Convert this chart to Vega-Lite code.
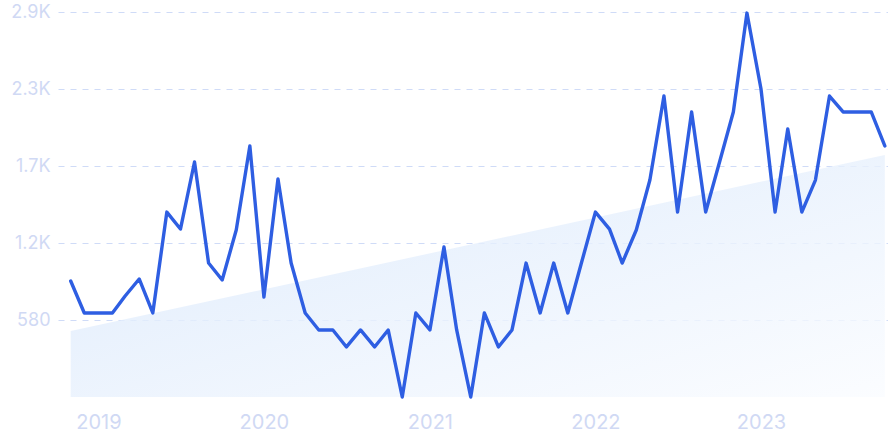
{
  "$schema": "https://vega.github.io/schema/vega-lite/v6.json",
  "width": 830,
  "height": 385,
  "autosize": "none",
  "padding": {"left": 58, "top": 12, "right": 0, "bottom": 46},
  "background": "white",
  "config": {
    "view": {"stroke": null},
    "axis": {"labelFont": "Inter", "labelFontSize": 18, "labelColor": "#d0d9f4", "domain": false, "ticks": false, "title": null}
  },
  "layer": [
    {
      "data": {"values": [{"date": "2018-11-01", "value": 497}, {"date": "2023-10-01", "value": 1823}]},
      "mark": {"type": "area", "opacity": 0.8, "color": {"gradient": "linear", "x1": 0, "y1": 0, "x2": 1, "y2": 1, "stops": [{"offset": 0, "color": "#d6e6fb"}, {"offset": 1, "color": "#fafcff"}]}},
      "encoding": {
        "x": {"field": "date", "type": "temporal",
          "scale": {"type": "utc", "domain": [{"year": 2018, "month": "oct", "date": 4, "utc": true}, {"year": 2023, "month": "oct", "date": 8, "utc": true}]},
          "axis": {"grid": false, "format": "%Y", "formatType": "utc", "tickCount": "year", "labelPadding": 15, "labelFontSize": 20}},
        "y": {"field": "value", "type": "quantitative",
          "scale": {"domain": [0, 2900], "nice": false},
          "axis": {"values": [580, 1160, 1740, 2320, 2900], "labelPadding": 8, "grid": true, "gridColor": "#cfdbf7", "gridDash": [6, 6], "gridWidth": 1,
            "labelExpr": "datum.value >= 1000 ? format(datum.value / 1000, '.1f') + 'K' : datum.value"}}
      }
    },
    {
      "data": {"values": [
        {"date": "2018-11-01", "value": 874},
        {"date": "2018-12-01", "value": 633},
        {"date": "2019-01-01", "value": 633},
        {"date": "2019-02-01", "value": 633},
        {"date": "2019-03-01", "value": 761},
        {"date": "2019-04-01", "value": 889},
        {"date": "2019-05-01", "value": 633},
        {"date": "2019-06-01", "value": 1393},
        {"date": "2019-07-01", "value": 1265},
        {"date": "2019-08-01", "value": 1770},
        {"date": "2019-09-01", "value": 1009},
        {"date": "2019-10-01", "value": 881},
        {"date": "2019-11-01", "value": 1258},
        {"date": "2019-12-01", "value": 1891},
        {"date": "2020-01-01", "value": 753},
        {"date": "2020-02-01", "value": 1642},
        {"date": "2020-03-01", "value": 1009},
        {"date": "2020-04-01", "value": 633},
        {"date": "2020-05-01", "value": 505},
        {"date": "2020-06-01", "value": 505},
        {"date": "2020-07-01", "value": 377},
        {"date": "2020-08-01", "value": 505},
        {"date": "2020-09-01", "value": 377},
        {"date": "2020-10-01", "value": 505},
        {"date": "2020-11-01", "value": 0},
        {"date": "2020-12-01", "value": 633},
        {"date": "2021-01-01", "value": 505},
        {"date": "2021-02-01", "value": 1130},
        {"date": "2021-03-01", "value": 505},
        {"date": "2021-04-01", "value": 0},
        {"date": "2021-05-01", "value": 633},
        {"date": "2021-06-01", "value": 377},
        {"date": "2021-07-01", "value": 505},
        {"date": "2021-08-01", "value": 1009},
        {"date": "2021-09-01", "value": 633},
        {"date": "2021-10-01", "value": 1009},
        {"date": "2021-11-01", "value": 633},
        {"date": "2021-12-01", "value": 1009},
        {"date": "2022-01-01", "value": 1393},
        {"date": "2022-02-01", "value": 1265},
        {"date": "2022-03-01", "value": 1009},
        {"date": "2022-04-01", "value": 1258},
        {"date": "2022-05-01", "value": 1634},
        {"date": "2022-06-01", "value": 2267},
        {"date": "2022-07-01", "value": 1393},
        {"date": "2022-08-01", "value": 2147},
        {"date": "2022-09-01", "value": 1393},
        {"date": "2022-10-01", "value": 1762},
        {"date": "2022-11-01", "value": 2147},
        {"date": "2022-12-01", "value": 2892},
        {"date": "2023-01-01", "value": 2320},
        {"date": "2023-02-01", "value": 1393},
        {"date": "2023-03-01", "value": 2019},
        {"date": "2023-04-01", "value": 1393},
        {"date": "2023-05-01", "value": 1634},
        {"date": "2023-06-01", "value": 2267},
        {"date": "2023-07-01", "value": 2147},
        {"date": "2023-08-01", "value": 2147},
        {"date": "2023-09-01", "value": 2147},
        {"date": "2023-10-01", "value": 1891}
      ]},
      "mark": {"type": "line", "color": "#2e5ee2", "strokeWidth": 3.4, "strokeJoin": "round", "strokeCap": "round"},
      "encoding": {
        "x": {"field": "date", "type": "temporal"},
        "y": {"field": "value", "type": "quantitative"}
      }
    }
  ]
}
